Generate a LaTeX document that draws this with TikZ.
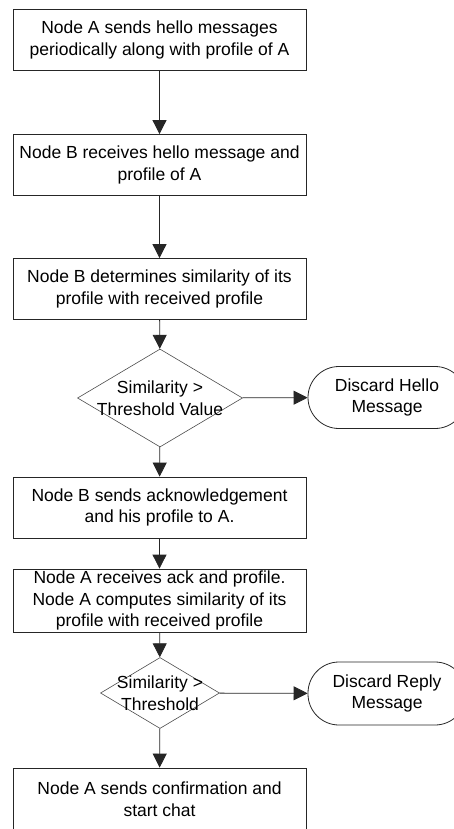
\documentclass[tikz,border=0pt]{standalone}
\usepackage{fontspec}
\setmainfont{Liberation Sans}
\usetikzlibrary{arrows.meta,shapes.geometric}

\tikzset{
  proc/.style={draw=black!85, line width=0.8pt, minimum width=293pt, minimum height=61pt, inner sep=0pt, align=center},
  decision/.style={draw=black!70, line width=0.6pt, diamond, inner sep=0pt},
  term/.style={draw=black!85, line width=0.8pt, rounded corners=31pt, minimum width=158pt, minimum height=62pt, align=center},
  flow/.style={draw=black!85, line width=0.8pt, -{Triangle[width=14pt,length=14pt]}},
}

\begin{document}
\begin{tikzpicture}[x=1pt,y=-1pt,font=\fontsize{17.5}{21.5}\selectfont]
\useasboundingbox (0,0) rectangle (453,829);
\node[proc] (send) at (159.5,40) {Node A sends hello messages\\periodically along with profile of A};
\node[proc] (recv) at (159.5,165) {Node B receives hello message and\\profile of A};
\node[proc] (simB) at (159.5,289) {Node B determines similarity of its\\profile with received profile};
\node[decision, minimum width=165pt, minimum height=98pt] (chkB) at (160,398) {};
\node[align=center] (chkBt) at (chkB) {Similarity >\\Threshold Value};
\node[term] (dropH) at (387,397.5) {Discard Hello\\Message};
\node[proc] (ack) at (159.5,507.5) {Node B sends acknowledgement\\and his profile to A.};
\node[proc, minimum height=63pt] (simA) at (159.5,600.5) {Node A receives ack and profile.\\Node A computes similarity of its\\profile with received profile};
\node[decision, minimum width=119pt, minimum height=71pt] (chkA) at (160,693) {};
\node[align=center] (chkAt) at (chkA) {Similarity >\\Threshold};
\node[term, minimum height=63pt] (dropR) at (387,693.5) {Discard Reply\\Message};
\node[proc, minimum height=62pt] (chat) at (159.5,799) {Node A sends confirmation and\\start chat};

\draw[flow] (send) -- (recv);
\draw[flow] (recv) -- (simB);
\draw[flow] (simB) -- (chkB);
\draw[flow] (chkB) -- (dropH);
\draw[flow] (chkB) -- (ack);
\draw[flow] (ack) -- (simA);
\draw[flow] (simA) -- (chkA);
\draw[flow] (chkA) -- (dropR);
\draw[flow] (chkA) -- (chat);
\end{tikzpicture}
\end{document}
